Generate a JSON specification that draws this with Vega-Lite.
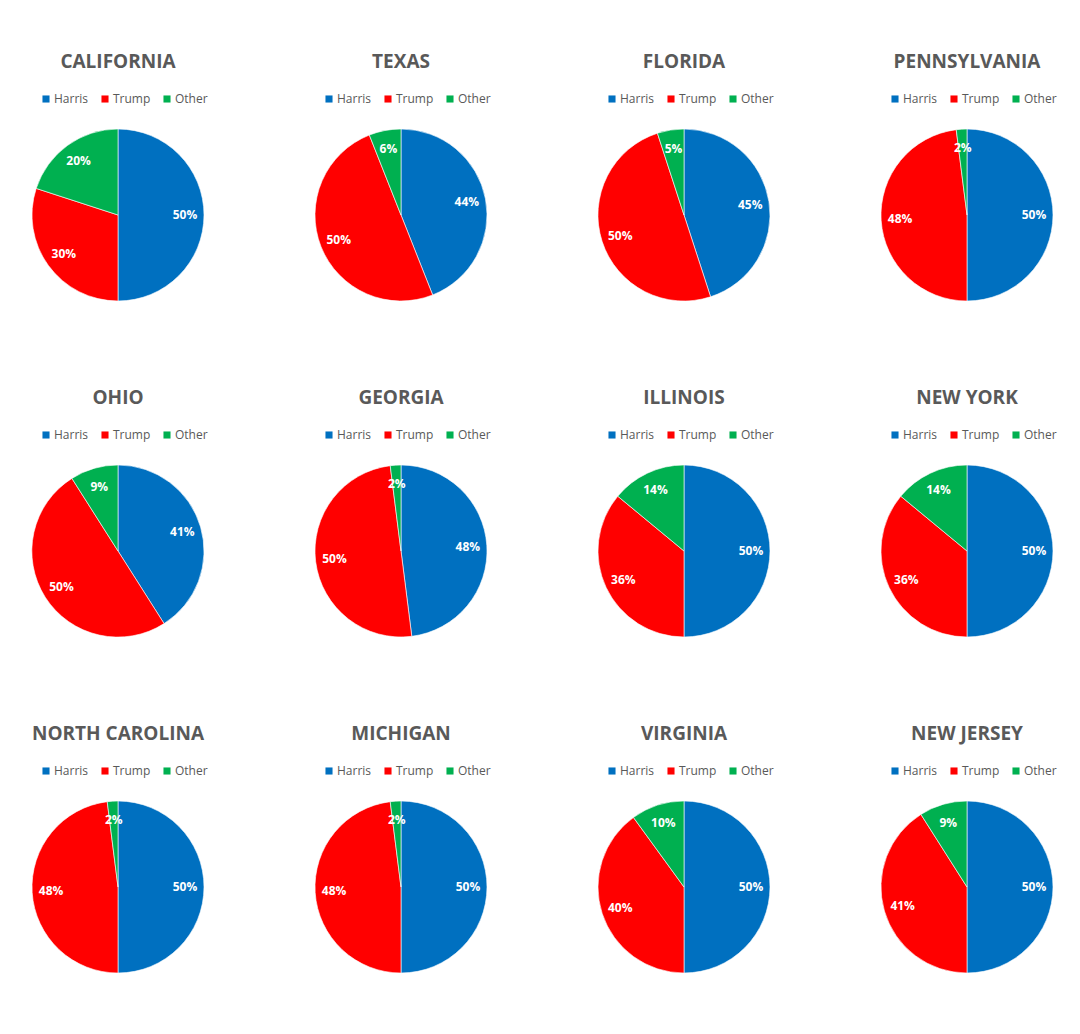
{
  "$schema": "https://vega.github.io/schema/vega-lite/v6.json",
  "padding": {"left": 30, "top": 53, "right": 10, "bottom": 10},
  "background": "white",
  "data": {"values": [
    {"state": "CALIFORNIA", "candidate": "Harris", "pct": 0.50, "order": 1},
    {"state": "CALIFORNIA", "candidate": "Trump", "pct": 0.30, "order": 2},
    {"state": "CALIFORNIA", "candidate": "Other", "pct": 0.20, "order": 3},
    {"state": "TEXAS", "candidate": "Harris", "pct": 0.44, "order": 1},
    {"state": "TEXAS", "candidate": "Trump", "pct": 0.50, "order": 2},
    {"state": "TEXAS", "candidate": "Other", "pct": 0.06, "order": 3},
    {"state": "FLORIDA", "candidate": "Harris", "pct": 0.45, "order": 1},
    {"state": "FLORIDA", "candidate": "Trump", "pct": 0.50, "order": 2},
    {"state": "FLORIDA", "candidate": "Other", "pct": 0.05, "order": 3},
    {"state": "PENNSYLVANIA", "candidate": "Harris", "pct": 0.50, "order": 1},
    {"state": "PENNSYLVANIA", "candidate": "Trump", "pct": 0.48, "order": 2},
    {"state": "PENNSYLVANIA", "candidate": "Other", "pct": 0.02, "order": 3},
    {"state": "OHIO", "candidate": "Harris", "pct": 0.41, "order": 1},
    {"state": "OHIO", "candidate": "Trump", "pct": 0.50, "order": 2},
    {"state": "OHIO", "candidate": "Other", "pct": 0.09, "order": 3},
    {"state": "GEORGIA", "candidate": "Harris", "pct": 0.48, "order": 1},
    {"state": "GEORGIA", "candidate": "Trump", "pct": 0.50, "order": 2},
    {"state": "GEORGIA", "candidate": "Other", "pct": 0.02, "order": 3},
    {"state": "ILLINOIS", "candidate": "Harris", "pct": 0.50, "order": 1},
    {"state": "ILLINOIS", "candidate": "Trump", "pct": 0.36, "order": 2},
    {"state": "ILLINOIS", "candidate": "Other", "pct": 0.14, "order": 3},
    {"state": "NEW YORK", "candidate": "Harris", "pct": 0.50, "order": 1},
    {"state": "NEW YORK", "candidate": "Trump", "pct": 0.36, "order": 2},
    {"state": "NEW YORK", "candidate": "Other", "pct": 0.14, "order": 3},
    {"state": "NORTH CAROLINA", "candidate": "Harris", "pct": 0.50, "order": 1},
    {"state": "NORTH CAROLINA", "candidate": "Trump", "pct": 0.48, "order": 2},
    {"state": "NORTH CAROLINA", "candidate": "Other", "pct": 0.02, "order": 3},
    {"state": "MICHIGAN", "candidate": "Harris", "pct": 0.50, "order": 1},
    {"state": "MICHIGAN", "candidate": "Trump", "pct": 0.48, "order": 2},
    {"state": "MICHIGAN", "candidate": "Other", "pct": 0.02, "order": 3},
    {"state": "VIRGINIA", "candidate": "Harris", "pct": 0.50, "order": 1},
    {"state": "VIRGINIA", "candidate": "Trump", "pct": 0.40, "order": 2},
    {"state": "VIRGINIA", "candidate": "Other", "pct": 0.10, "order": 3},
    {"state": "NEW JERSEY", "candidate": "Harris", "pct": 0.50, "order": 1},
    {"state": "NEW JERSEY", "candidate": "Trump", "pct": 0.41, "order": 2},
    {"state": "NEW JERSEY", "candidate": "Other", "pct": 0.09, "order": 3}
  ]},
  "columns": 4,
  "bounds": "flush",
  "spacing": {"row": 164, "column": 111},
  "resolve": {"scale": {"theta": "independent", "color": "independent"}, "legend": {"color": "independent"}},
  "concat": [
    {"title": "CALIFORNIA", "width": 172, "height": 172, "transform": [{"filter": "datum.state === 'CALIFORNIA'"}],
     "encoding": {"theta": {"field": "pct", "type": "quantitative", "stack": true}, "order": {"field": "order", "type": "quantitative"}},
     "layer": [{"mark": {"type": "arc", "outerRadius": 86, "stroke": "#ffffff", "strokeWidth": 0.6},
        "encoding": {"color": {"field": "candidate", "type": "nominal", "scale": {"domain": ["Harris", "Trump", "Other"], "range": ["#0070C0", "#FF0000", "#00B050"]}, "legend": {"orient": "none", "legendX": 8, "legendY": -36, "direction": "horizontal", "title": null}}}},
       {"mark": {"type": "text", "radius": 67, "fill": "white", "fontWeight": "bold", "fontSize": 12, "font": "Open Sans"}, "encoding": {"text": {"field": "pct", "type": "quantitative", "format": ".0%"}}}]},
    {"title": "TEXAS", "width": 172, "height": 172, "transform": [{"filter": "datum.state === 'TEXAS'"}],
     "encoding": {"theta": {"field": "pct", "type": "quantitative", "stack": true}, "order": {"field": "order", "type": "quantitative"}},
     "layer": [{"mark": {"type": "arc", "outerRadius": 86, "stroke": "#ffffff", "strokeWidth": 0.6},
        "encoding": {"color": {"field": "candidate", "type": "nominal", "scale": {"domain": ["Harris", "Trump", "Other"], "range": ["#0070C0", "#FF0000", "#00B050"]}, "legend": {"orient": "none", "legendX": 8, "legendY": -36, "direction": "horizontal", "title": null}}}},
       {"mark": {"type": "text", "radius": 67, "fill": "white", "fontWeight": "bold", "fontSize": 12, "font": "Open Sans"}, "encoding": {"text": {"field": "pct", "type": "quantitative", "format": ".0%"}}}]},
    {"title": "FLORIDA", "width": 172, "height": 172, "transform": [{"filter": "datum.state === 'FLORIDA'"}],
     "encoding": {"theta": {"field": "pct", "type": "quantitative", "stack": true}, "order": {"field": "order", "type": "quantitative"}},
     "layer": [{"mark": {"type": "arc", "outerRadius": 86, "stroke": "#ffffff", "strokeWidth": 0.6},
        "encoding": {"color": {"field": "candidate", "type": "nominal", "scale": {"domain": ["Harris", "Trump", "Other"], "range": ["#0070C0", "#FF0000", "#00B050"]}, "legend": {"orient": "none", "legendX": 8, "legendY": -36, "direction": "horizontal", "title": null}}}},
       {"mark": {"type": "text", "radius": 67, "fill": "white", "fontWeight": "bold", "fontSize": 12, "font": "Open Sans"}, "encoding": {"text": {"field": "pct", "type": "quantitative", "format": ".0%"}}}]},
    {"title": "PENNSYLVANIA", "width": 172, "height": 172, "transform": [{"filter": "datum.state === 'PENNSYLVANIA'"}],
     "encoding": {"theta": {"field": "pct", "type": "quantitative", "stack": true}, "order": {"field": "order", "type": "quantitative"}},
     "layer": [{"mark": {"type": "arc", "outerRadius": 86, "stroke": "#ffffff", "strokeWidth": 0.6},
        "encoding": {"color": {"field": "candidate", "type": "nominal", "scale": {"domain": ["Harris", "Trump", "Other"], "range": ["#0070C0", "#FF0000", "#00B050"]}, "legend": {"orient": "none", "legendX": 8, "legendY": -36, "direction": "horizontal", "title": null}}}},
       {"mark": {"type": "text", "radius": 67, "fill": "white", "fontWeight": "bold", "fontSize": 12, "font": "Open Sans"}, "encoding": {"text": {"field": "pct", "type": "quantitative", "format": ".0%"}}}]},
    {"title": "OHIO", "width": 172, "height": 172, "transform": [{"filter": "datum.state === 'OHIO'"}],
     "encoding": {"theta": {"field": "pct", "type": "quantitative", "stack": true}, "order": {"field": "order", "type": "quantitative"}},
     "layer": [{"mark": {"type": "arc", "outerRadius": 86, "stroke": "#ffffff", "strokeWidth": 0.6},
        "encoding": {"color": {"field": "candidate", "type": "nominal", "scale": {"domain": ["Harris", "Trump", "Other"], "range": ["#0070C0", "#FF0000", "#00B050"]}, "legend": {"orient": "none", "legendX": 8, "legendY": -36, "direction": "horizontal", "title": null}}}},
       {"mark": {"type": "text", "radius": 67, "fill": "white", "fontWeight": "bold", "fontSize": 12, "font": "Open Sans"}, "encoding": {"text": {"field": "pct", "type": "quantitative", "format": ".0%"}}}]},
    {"title": "GEORGIA", "width": 172, "height": 172, "transform": [{"filter": "datum.state === 'GEORGIA'"}],
     "encoding": {"theta": {"field": "pct", "type": "quantitative", "stack": true}, "order": {"field": "order", "type": "quantitative"}},
     "layer": [{"mark": {"type": "arc", "outerRadius": 86, "stroke": "#ffffff", "strokeWidth": 0.6},
        "encoding": {"color": {"field": "candidate", "type": "nominal", "scale": {"domain": ["Harris", "Trump", "Other"], "range": ["#0070C0", "#FF0000", "#00B050"]}, "legend": {"orient": "none", "legendX": 8, "legendY": -36, "direction": "horizontal", "title": null}}}},
       {"mark": {"type": "text", "radius": 67, "fill": "white", "fontWeight": "bold", "fontSize": 12, "font": "Open Sans"}, "encoding": {"text": {"field": "pct", "type": "quantitative", "format": ".0%"}}}]},
    {"title": "ILLINOIS", "width": 172, "height": 172, "transform": [{"filter": "datum.state === 'ILLINOIS'"}],
     "encoding": {"theta": {"field": "pct", "type": "quantitative", "stack": true}, "order": {"field": "order", "type": "quantitative"}},
     "layer": [{"mark": {"type": "arc", "outerRadius": 86, "stroke": "#ffffff", "strokeWidth": 0.6},
        "encoding": {"color": {"field": "candidate", "type": "nominal", "scale": {"domain": ["Harris", "Trump", "Other"], "range": ["#0070C0", "#FF0000", "#00B050"]}, "legend": {"orient": "none", "legendX": 8, "legendY": -36, "direction": "horizontal", "title": null}}}},
       {"mark": {"type": "text", "radius": 67, "fill": "white", "fontWeight": "bold", "fontSize": 12, "font": "Open Sans"}, "encoding": {"text": {"field": "pct", "type": "quantitative", "format": ".0%"}}}]},
    {"title": "NEW YORK", "width": 172, "height": 172, "transform": [{"filter": "datum.state === 'NEW YORK'"}],
     "encoding": {"theta": {"field": "pct", "type": "quantitative", "stack": true}, "order": {"field": "order", "type": "quantitative"}},
     "layer": [{"mark": {"type": "arc", "outerRadius": 86, "stroke": "#ffffff", "strokeWidth": 0.6},
        "encoding": {"color": {"field": "candidate", "type": "nominal", "scale": {"domain": ["Harris", "Trump", "Other"], "range": ["#0070C0", "#FF0000", "#00B050"]}, "legend": {"orient": "none", "legendX": 8, "legendY": -36, "direction": "horizontal", "title": null}}}},
       {"mark": {"type": "text", "radius": 67, "fill": "white", "fontWeight": "bold", "fontSize": 12, "font": "Open Sans"}, "encoding": {"text": {"field": "pct", "type": "quantitative", "format": ".0%"}}}]},
    {"title": "NORTH CAROLINA", "width": 172, "height": 172, "transform": [{"filter": "datum.state === 'NORTH CAROLINA'"}],
     "encoding": {"theta": {"field": "pct", "type": "quantitative", "stack": true}, "order": {"field": "order", "type": "quantitative"}},
     "layer": [{"mark": {"type": "arc", "outerRadius": 86, "stroke": "#ffffff", "strokeWidth": 0.6},
        "encoding": {"color": {"field": "candidate", "type": "nominal", "scale": {"domain": ["Harris", "Trump", "Other"], "range": ["#0070C0", "#FF0000", "#00B050"]}, "legend": {"orient": "none", "legendX": 8, "legendY": -36, "direction": "horizontal", "title": null}}}},
       {"mark": {"type": "text", "radius": 67, "fill": "white", "fontWeight": "bold", "fontSize": 12, "font": "Open Sans"}, "encoding": {"text": {"field": "pct", "type": "quantitative", "format": ".0%"}}}]},
    {"title": "MICHIGAN", "width": 172, "height": 172, "transform": [{"filter": "datum.state === 'MICHIGAN'"}],
     "encoding": {"theta": {"field": "pct", "type": "quantitative", "stack": true}, "order": {"field": "order", "type": "quantitative"}},
     "layer": [{"mark": {"type": "arc", "outerRadius": 86, "stroke": "#ffffff", "strokeWidth": 0.6},
        "encoding": {"color": {"field": "candidate", "type": "nominal", "scale": {"domain": ["Harris", "Trump", "Other"], "range": ["#0070C0", "#FF0000", "#00B050"]}, "legend": {"orient": "none", "legendX": 8, "legendY": -36, "direction": "horizontal", "title": null}}}},
       {"mark": {"type": "text", "radius": 67, "fill": "white", "fontWeight": "bold", "fontSize": 12, "font": "Open Sans"}, "encoding": {"text": {"field": "pct", "type": "quantitative", "format": ".0%"}}}]},
    {"title": "VIRGINIA", "width": 172, "height": 172, "transform": [{"filter": "datum.state === 'VIRGINIA'"}],
     "encoding": {"theta": {"field": "pct", "type": "quantitative", "stack": true}, "order": {"field": "order", "type": "quantitative"}},
     "layer": [{"mark": {"type": "arc", "outerRadius": 86, "stroke": "#ffffff", "strokeWidth": 0.6},
        "encoding": {"color": {"field": "candidate", "type": "nominal", "scale": {"domain": ["Harris", "Trump", "Other"], "range": ["#0070C0", "#FF0000", "#00B050"]}, "legend": {"orient": "none", "legendX": 8, "legendY": -36, "direction": "horizontal", "title": null}}}},
       {"mark": {"type": "text", "radius": 67, "fill": "white", "fontWeight": "bold", "fontSize": 12, "font": "Open Sans"}, "encoding": {"text": {"field": "pct", "type": "quantitative", "format": ".0%"}}}]},
    {"title": "NEW JERSEY", "width": 172, "height": 172, "transform": [{"filter": "datum.state === 'NEW JERSEY'"}],
     "encoding": {"theta": {"field": "pct", "type": "quantitative", "stack": true}, "order": {"field": "order", "type": "quantitative"}},
     "layer": [{"mark": {"type": "arc", "outerRadius": 86, "stroke": "#ffffff", "strokeWidth": 0.6},
        "encoding": {"color": {"field": "candidate", "type": "nominal", "scale": {"domain": ["Harris", "Trump", "Other"], "range": ["#0070C0", "#FF0000", "#00B050"]}, "legend": {"orient": "none", "legendX": 8, "legendY": -36, "direction": "horizontal", "title": null}}}},
       {"mark": {"type": "text", "radius": 67, "fill": "white", "fontWeight": "bold", "fontSize": 12, "font": "Open Sans"}, "encoding": {"text": {"field": "pct", "type": "quantitative", "format": ".0%"}}}]}
  ],
  "config": {
    "view": {"stroke": null},
    "title": {"fontSize": 19, "font": "Open Sans", "fontWeight": "bold", "color": "#595959", "offset": 21, "anchor": "middle"},
    "legend": {"symbolType": "square", "symbolSize": 50, "labelFontSize": 12, "labelFont": "Open Sans", "labelColor": "#595959", "columnPadding": 10, "labelOffset": 2, "symbolStrokeWidth": 0, "padding": 0}
  }
}
